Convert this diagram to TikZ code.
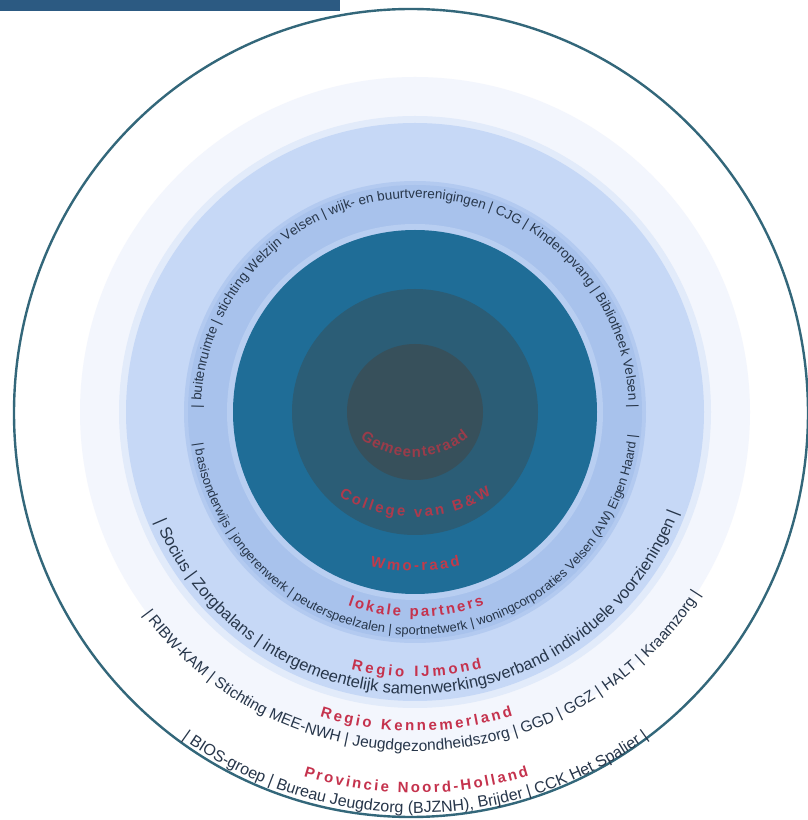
\documentclass[tikz,border=0pt]{standalone}
\usepackage{fontspec}
\setmainfont{Liberation Sans}
\newfontfamily\lblfont{Liberation Sans}
\usetikzlibrary{decorations.text}
\definecolor{barblue}{HTML}{2C5A82}
\definecolor{outline}{HTML}{33677A}
\definecolor{halo}{HTML}{F3F6FD}
\definecolor{glow}{HTML}{E2EBFA}
\definecolor{pale}{HTML}{C6D8F6}
\definecolor{medsoft}{HTML}{B3CAF0}
\definecolor{medium}{HTML}{A8C2EC}
\definecolor{tealhalo}{HTML}{B8CEF1}
\definecolor{teal}{HTML}{1F6D97}
\definecolor{slate}{HTML}{2B5D76}
\definecolor{charcoal}{HTML}{37505B}
\definecolor{redout}{HTML}{C5324D}
\definecolor{redin}{HTML}{9A3C4A}
\definecolor{redmid}{HTML}{AE3A4C}
\definecolor{redwmo}{HTML}{C23A4A}
\definecolor{ringtext}{HTML}{27364A}
\tikzset{
  ringlbl/.style n args={3}{decorate,decoration={text along path,
      text format delimiters={[}{]},
      text={[\fontsize{#1}{#1}\selectfont]#2},
      text color=#3, text align=center}},
  redlbl/.style n args={3}{decorate,decoration={text along path,
      text format delimiters={[}{]},
      text={[\lblfont\bfseries\fontsize{15}{17}\selectfont\kern#3pt]#1},
      text color=#2, text align=center}}
}
\begin{document}
\begin{tikzpicture}[x=1pt,y=1pt]
\useasboundingbox (0,0) rectangle (808,820);
\fill[white] (0,0) rectangle (808,820);
\coordinate (C) at (415,408);
\coordinate (C2) at (414,448);
\coordinate (E) at (411,407);
% top bar
\fill[barblue] (0,809) rectangle (340,820);
% discs
\fill[halo] (C) circle[radius=335];
\fill[glow] (C) circle[radius=296];
\fill[pale] (C) circle[radius=289];
\fill[medsoft] (C) circle[radius=231];
\fill[medium] (C) circle[radius=227];
\fill[tealhalo] (C) circle[radius=188];
\fill[teal] (C) circle[radius=182];
\fill[slate] (C) circle[radius=123];
\fill[charcoal] (C) circle[radius=68];
% outline
\draw[outline, line width=2.4pt] (E) ellipse[x radius=397, y radius=404];
% ring texts
\path[ringlbl={13.5}{| buitenruimte | stichting Welzijn Velsen | wijk- en buurtverenigingen | CJG | Kinderopvang | Bibliotheek Velsen |}{ringtext}]
  ([shift={(184:214)}]C) arc[start angle=184, end angle=-4, radius=214];
\path[ringlbl={12.9}{| basisonderwijs | jongerenwerk | peuterspeelzalen | sportnetwerk | woningcorporaties Velsen (AW) Eigen Haard |}{ringtext}]
  ([shift={(182:223)}]C) arc[start angle=182, end angle=360, radius=223];
\path[ringlbl={16.5}{| Socius | Zorgbalans | intergemeentelijk samenwerkingsverband individuele voorzieningen |}{ringtext}]
  ([shift={(197:282)}]C) arc[start angle=197, end angle=345, radius=282];
\path[ringlbl={15.5}{| RIBW-KAM | Stichting MEE-NWH | Jeugdgezondheidszorg | GGD | GGZ | HALT | Kraamzorg |}{ringtext}]
  ([shift={(213:339)}]C) arc[start angle=213, end angle=331, radius=339];
\path[ringlbl={16}{| BIOS-groep | Bureau Jeugdzorg (BJZNH), Brijder | CCK Het Spalier |}{ringtext}]
  ([shift={(229:401)}]C) arc[start angle=229, end angle=311, radius=401];
% red labels, inner
\path[redlbl={Gemeenteraad}{redin}{1.2}]
  ([shift={(200:85)}]C2) arc[start angle=200, end angle=340, radius=85];
\path[redlbl={College van B{\&}W}{redmid}{2.6}]
  ([shift={(210:145)}]C2) arc[start angle=210, end angle=330, radius=145];
\path[redlbl={Wmo-raad}{redwmo}{2.5}]
  ([shift={(240:199)}]C2) arc[start angle=240, end angle=300, radius=199];
% red labels, outer
\path[redlbl={lokale partners}{redout}{2.3}]
  ([shift={(225:205)}]C) arc[start angle=225, end angle=315, radius=205];
\path[redlbl={Regio IJmond}{redout}{3.0}]
  ([shift={(235:265)}]C) arc[start angle=235, end angle=305, radius=265];
\path[redlbl={Regio Kennemerland}{redout}{2.7}]
  ([shift={(230:319)}]C) arc[start angle=230, end angle=310, radius=319];
\path[redlbl={Provincie Noord-Holland}{redout}{2.4}]
  ([shift={(235:381)}]C) arc[start angle=235, end angle=305, radius=381];
\end{tikzpicture}
\end{document}
